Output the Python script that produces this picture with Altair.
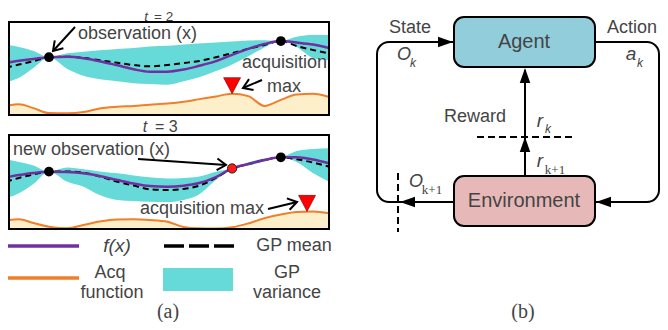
import math
import altair as alt
import pandas as pd

# ---------------- values ----------------
gp_x = [0, 0.4, 0.85, 1.33, 1.9, 2.4, 2.9, 3.45, 3.95, 4.45, 5.0,
        5.5, 5.95, 6.5, 7.0, 7.5, 8.0, 8.51, 9.0, 9.5, 10]

# t = 2
t2_f     = [5.61, 5.84, 6.02, 6.21, 6.26, 6.11, 5.79, 5.34, 4.92, 4.66, 4.66,
            4.89, 5.26, 5.79, 6.47, 7.11, 7.63, 7.95, 7.79, 7.58, 7.21]
t2_mean  = [5.08, 5.42, 5.79, 6.21, 6.26, 6.13, 5.89, 5.61, 5.37, 5.23, 5.37,
            5.58, 5.79, 6.21, 6.66, 7.11, 7.53, 7.95, 7.42, 7.00, 6.63]
t2_upper = [7.55, 7.32, 6.89, 6.21, 6.63, 6.79, 6.95, 7.11, 7.21, 7.37, 7.44,
            7.58, 7.68, 7.79, 7.89, 8.00, 8.05, 7.95, 8.42, 8.60, 8.60]
t2_lower = [3.51, 4.00, 5.05, 6.21, 4.95, 4.21, 3.84, 3.63, 3.42, 3.32, 3.26,
            3.63, 4.03, 4.74, 5.44, 6.32, 7.26, 7.95, 7.30, 6.14, 5.89]
t2_acq   = [0.98, 1.16, 0.74, 0.21, 0.18, 0.32, 0.71, 0.89, 0.98, 1.11, 1.23,
            1.42, 1.68, 2.00, 2.28, 2.03, 0.98, 1.63, 2.21, 2.28, 1.93]
t2_obs_x = [1.33, 8.51]
t2_obs_y = [6.21, 7.95]
t2_acq_max = [7.0, 2.28]

# t = 3
t3_f     = [5.50, 5.74, 5.96, 6.10, 6.06, 5.93, 5.64, 5.21, 4.84, 4.57, 4.50,
            4.61, 4.86, 5.53, 6.44, 6.91, 7.34, 7.63, 7.63, 7.39, 6.99]
t3_mean  = [5.03, 5.43, 5.80, 6.10, 6.12, 5.99, 5.59, 5.03, 4.63, 4.22, 4.15,
            4.26, 4.57, 5.43, 6.44, 6.91, 7.34, 7.63, 7.41, 7.07, 6.63]
t3_upper = [7.41, 7.13, 6.76, 6.10, 6.54, 6.35, 6.12, 5.93, 5.69, 5.50, 5.37,
            5.43, 5.56, 6.10, 6.44, 7.07, 7.50, 7.63, 8.30, 8.51, 8.59]
t3_lower = [3.27, 3.80, 4.79, 6.10, 5.03, 4.50, 3.62, 3.09, 2.98, 2.90, 2.87,
            3.09, 3.62, 5.21, 6.44, 6.76, 7.18, 7.63, 7.13, 5.96, 5.03]
t3_acq   = [0.88, 1.03, 0.64, 0.24, 0.07, 0.43, 0.80, 1.01, 1.03, 0.96, 0.78,
            0.21, 0.07, 0.05, 0.18, 0.59, 1.14, 1.54, 1.81, 1.86, 1.67]
t3_obs_x = [1.33, 8.51]
t3_obs_y = [6.10, 7.63]
t3_new_obs = [7.0, 6.44]
t3_acq_max = [9.32, 1.86]

# ---------------- style ----------------
PURPLE = "#7030a0"
ORANGE = "#ef7f2a"
CREAM = "#fdefc9"
CYAN = "#66d9d9"
AGENT_FILL = "#92cddc"
ENV_FILL = "#e6b9b8"
TXT = "#444444"
SANS = "Liberation Sans"
SERIF = "Liberation Serif"

W, H = 652, 314
XS = alt.Scale(domain=[8, 8 + W], range=[0, W], nice=False, zero=False)
YS = alt.Scale(domain=[8, 8 + H], range=[0, H], nice=False, zero=False)


def ex(f):
    return alt.X(f + ":Q", scale=XS, axis=None)


def ey(f):
    return alt.Y(f + ":Q", scale=YS, axis=None)


# ---------------- layout of panel (a) ----------------
PX_L, PX_R = 6, 329
panels = [
    dict(name="t2", top=22, bottom=115, f=t2_f, mean=t2_mean, up=t2_upper,
         lo=t2_lower, acq=t2_acq, ox=t2_obs_x, oy=t2_obs_y, amax=t2_acq_max),
    dict(name="t3", top=135, bottom=229, f=t3_f, mean=t3_mean, up=t3_upper,
         lo=t3_lower, acq=t3_acq, ox=t3_obs_x, oy=t3_obs_y, amax=t3_acq_max),
]


def px(u):
    return PX_L + u * (PX_R - PX_L) / 10.0


def py(v, p):
    return p["bottom"] - v * (p["bottom"] - p["top"]) / 10.0


rows, obs_rows, tri_rows = [], [], []
for p in panels:
    for i, u in enumerate(gp_x):
        rows.append(dict(panel=p["name"], X=px(u), Yf=py(p["f"][i], p),
                         Ym=py(p["mean"][i], p), Yu=py(p["up"][i], p),
                         Yl=py(p["lo"][i], p), Ya=py(p["acq"][i], p),
                         Yb=p["bottom"]))
    for ux, vy in zip(p["ox"], p["oy"]):
        obs_rows.append(dict(X=px(ux), Y=py(vy, p)))
    tri_rows.append(dict(X=px(p["amax"][0]), Y=py(p["amax"][1], p)))
gp = pd.DataFrame(rows)
obs = pd.DataFrame(obs_rows)
tri = pd.DataFrame(tri_rows)
new_obs = pd.DataFrame([dict(X=px(t3_new_obs[0]), Y=py(t3_new_obs[1], panels[1]))])

acq_area = alt.Chart(gp).mark_area(color=CREAM, interpolate="monotone").encode(
    x=ex("X"), y=ey("Ya"), y2="Yb", detail="panel:N")
band = alt.Chart(gp).mark_area(color=CYAN, interpolate="monotone").encode(
    x=ex("X"), y=ey("Yu"), y2="Yl", detail="panel:N")
acq_line = alt.Chart(gp).mark_line(color=ORANGE, strokeWidth=2, interpolate="monotone").encode(
    x=ex("X"), y=ey("Ya"), detail="panel:N")
mean_line = alt.Chart(gp).mark_line(color="black", strokeWidth=2, strokeDash=[6, 4],
                                    interpolate="monotone").encode(
    x=ex("X"), y=ey("Ym"), detail="panel:N")
f_line = alt.Chart(gp).mark_line(color=PURPLE, strokeWidth=2.5, interpolate="monotone").encode(
    x=ex("X"), y=ey("Yf"), detail="panel:N")

frames = pd.DataFrame([dict(x1=9, x2=329, y1=p["top"], y2=p["bottom"]) for p in panels])
frame_marks = alt.Chart(frames).mark_rect(fill="transparent", stroke="black", strokeWidth=2).encode(
    x=ex("x1"), x2="x2", y=ey("y1"), y2="y2")

obs_marks = alt.Chart(obs).mark_circle(size=95, color="black", opacity=1).encode(x=ex("X"), y=ey("Y"))
new_obs_mark = alt.Chart(new_obs).mark_point(shape="circle", size=85, filled=True, fill="#ff1a1a",
                                             stroke="#222222", strokeWidth=1, opacity=1).encode(
    x=ex("X"), y=ey("Y"))
tri_marks = alt.Chart(tri).mark_point(shape="M-1,-0.9L1,-0.9L0,1Z", size=289, filled=True,
                                      fill="#ff0000", stroke="#700000", strokeWidth=0.6,
                                      opacity=1, yOffset=-8.5).encode(x=ex("X"), y=ey("Y"))

# legend of panel (a)
leg_lines = pd.DataFrame([
    dict(x1=8, x2=79, y=246, c=PURPLE),
    dict(x1=8, x2=79, y=278, c=ORANGE),
])
leg_line_marks = alt.Chart(leg_lines).mark_rule(strokeWidth=3.5).encode(
    x=ex("x1"), x2="x2", y=ey("y"), color=alt.Color("c:N", scale=None))
leg_dash = alt.Chart(pd.DataFrame([dict(x1=164, x2=235, y=246)])).mark_rule(
    strokeWidth=3.5, color="black", strokeDash=[20, 5]).encode(x=ex("x1"), x2="x2", y=ey("y"))
leg_rect = alt.Chart(pd.DataFrame([dict(x1=163, x2=233, y1=268, y2=291)])).mark_rect(
    color=CYAN).encode(x=ex("x1"), x2="x2", y=ey("y1"), y2="y2")

# annotation arrows in panel (a): (from x, from y, tip x, tip y)
ann = pd.DataFrame([
    dict(x1=75, y1=27, x2=53, y2=51),
    dict(x1=262, y1=80, x2=243, y2=88),
    dict(x1=138, y1=159, x2=226, y2=165),
    dict(x1=268, y1=209, x2=297, y2=202),
])
ann["ang"] = [(math.degrees(math.atan2(r.y2 - r.y1, r.x2 - r.x1)) + 360) % 360 for r in ann.itertuples()]
ann_shaft = alt.Chart(ann).mark_rule(strokeWidth=2, color="black").encode(
    x=ex("x1"), y=ey("y1"), x2="x2", y2="y2")
ann_head = alt.Chart(ann).mark_point(shape="M-1,-0.65L0,0L-1,0.65", filled=False, stroke="black",
                                     strokeWidth=2, size=324, opacity=1).encode(
    x=ex("x2"), y=ey("y2"), angle=alt.Angle("ang:Q", scale=None))

# ---------------- panel (b): diagram ----------------
loop = alt.Chart(pd.DataFrame([dict(x1=377, x2=659, y1=42, y2=202)])).mark_rect(
    fill="transparent", stroke="black", strokeWidth=2, cornerRadius=12).encode(
    x=ex("x1"), x2="x2", y=ey("y1"), y2="y2")
boxes = pd.DataFrame([
    dict(x1=454, x2=595, y1=17, y2=67, c=AGENT_FILL),
    dict(x1=454, x2=595, y1=176, y2=226, c=ENV_FILL),
])
box_marks = alt.Chart(boxes).mark_rect(stroke="black", strokeWidth=2, cornerRadius=10).encode(
    x=ex("x1"), x2="x2", y=ey("y1"), y2="y2", color=alt.Color("c:N", scale=None))
reward_line = alt.Chart(pd.DataFrame([dict(x=525, y1=176, y2=70)])).mark_rule(
    strokeWidth=2, color="black").encode(x=ex("x"), y=ey("y1"), y2="y2")
dashes = pd.DataFrame([
    dict(x1=477, x2=573, y1=137, y2=137),
    dict(x1=398, x2=398, y1=173, y2=232),
])
dash_marks = alt.Chart(dashes).mark_rule(strokeWidth=2, color="black", strokeDash=[7, 4]).encode(
    x=ex("x1"), x2="x2", y=ey("y1"), y2="y2")
heads = pd.DataFrame([
    dict(x=453, y=42, ang=0),
    dict(x=400, y=202, ang=180),
    dict(x=596, y=202, ang=180),
    dict(x=525, y=68, ang=270),
    dict(x=525, y=137, ang=270),
])
head_marks = alt.Chart(heads).mark_point(shape="M0,0L-1,-0.35L-1,0.35Z", filled=True, color="black",
                                         size=900, opacity=1).encode(
    x=ex("x"), y=ey("y"), angle=alt.Angle("ang:Q", scale=None))

# ---------------- texts ----------------
texts = pd.DataFrame([
    dict(t="observation (x)", x=78, y=34, s=18, f=SANS, st="normal", a="left"),
    dict(t="acquisition", x=242, y=63, s=18, f=SANS, st="normal", a="left"),
    dict(t="max", x=267, y=87, s=18, f=SANS, st="normal", a="left"),
    dict(t="new observation (x)", x=13, y=150, s=18, f=SANS, st="normal", a="left"),
    dict(t="acquisition max", x=140, y=209, s=18, f=SANS, st="normal", a="left"),
    dict(t="f(x)", x=117, y=246, s=19, f=SANS, st="italic", a="center"),
    dict(t="GP mean", x=294, y=246, s=18, f=SANS, st="normal", a="center"),
    dict(t="Acq", x=110, y=273, s=18, f=SANS, st="normal", a="center"),
    dict(t="function", x=112, y=293, s=18, f=SANS, st="normal", a="center"),
    dict(t="GP", x=287, y=273, s=18, f=SANS, st="normal", a="center"),
    dict(t="variance", x=287, y=293, s=18, f=SANS, st="normal", a="center"),
    dict(t="(a)", x=168, y=312, s=20, f=SERIF, st="normal", a="center"),
    dict(t="(b)", x=523, y=312, s=20, f=SERIF, st="normal", a="center"),
    dict(t="Agent", x=524, y=42, s=20, f=SANS, st="normal", a="center"),
    dict(t="Environment", x=524, y=201, s=20, f=SANS, st="normal", a="center"),
    dict(t="State", x=410, y=28, s=18, f=SANS, st="normal", a="center"),
    dict(t="Action", x=632, y=28, s=18, f=SANS, st="normal", a="center"),
    dict(t="Reward", x=475, y=117, s=18, f=SANS, st="normal", a="center"),
    dict(t="O", x=404, y=55, s=18, f=SANS, st="italic", a="center"),
    dict(t="k", x=413, y=63, s=12, f=SANS, st="italic", a="center"),
    dict(t="a", x=631, y=54, s=19, f=SANS, st="italic", a="center"),
    dict(t="k", x=640, y=63, s=12, f=SANS, st="italic", a="center"),
    dict(t="r", x=540, y=121, s=19, f=SANS, st="italic", a="center"),
    dict(t="k", x=548, y=129, s=12, f=SANS, st="italic", a="center"),
    dict(t="r", x=540, y=161, s=19, f=SANS, st="italic", a="center"),
    dict(t="k+1", x=555, y=170, s=13, f=SERIF, st="normal", a="center"),
    dict(t="O", x=416, y=182, s=18, f=SANS, st="italic", a="center"),
    dict(t="k+1", x=432, y=190, s=13, f=SERIF, st="normal", a="center"),
])

# panel titles, placed on their baseline (the top one sits right under the page edge)
titles = pd.DataFrame([
    dict(t="t", x=146, y=20.5, s=13.5, st="italic", a="center"),
    dict(t="= 2", x=154, y=20.5, s=13.5, st="normal", a="left"),
    dict(t="t", x=145, y=132, s=16, st="italic", a="center"),
    dict(t="= 3", x=155, y=132, s=16, st="normal", a="left"),
])

text_layers = []
for (fam, st, al), grp in texts.groupby(["f", "st", "a"]):
    text_layers.append(
        alt.Chart(grp.reset_index(drop=True)).mark_text(
            font=fam, fontStyle=st, align=al, baseline="middle", color=TXT).encode(
            x=ex("x"), y=ey("y"), text="t:N", size=alt.Size("s:Q", scale=None)))
for (st, al), grp in titles.groupby(["st", "a"]):
    text_layers.append(
        alt.Chart(grp.reset_index(drop=True)).mark_text(
            font=SANS, fontStyle=st, align=al, baseline="alphabetic", color=TXT).encode(
            x=ex("x"), y=ey("y"), text="t:N", size=alt.Size("s:Q", scale=None)))

chart = alt.layer(
    acq_area, band, acq_line, mean_line, f_line, frame_marks,
    obs_marks, new_obs_mark, tri_marks,
    leg_line_marks, leg_dash, leg_rect,
    ann_shaft, ann_head,
    loop, box_marks, reward_line, dash_marks, head_marks,
    *text_layers,
).properties(width=W, height=H, padding=0, autosize="none", background="white").configure_view(
    stroke=None)

chart.save("out.html", embed_options={"renderer": "svg", "actions": False})
